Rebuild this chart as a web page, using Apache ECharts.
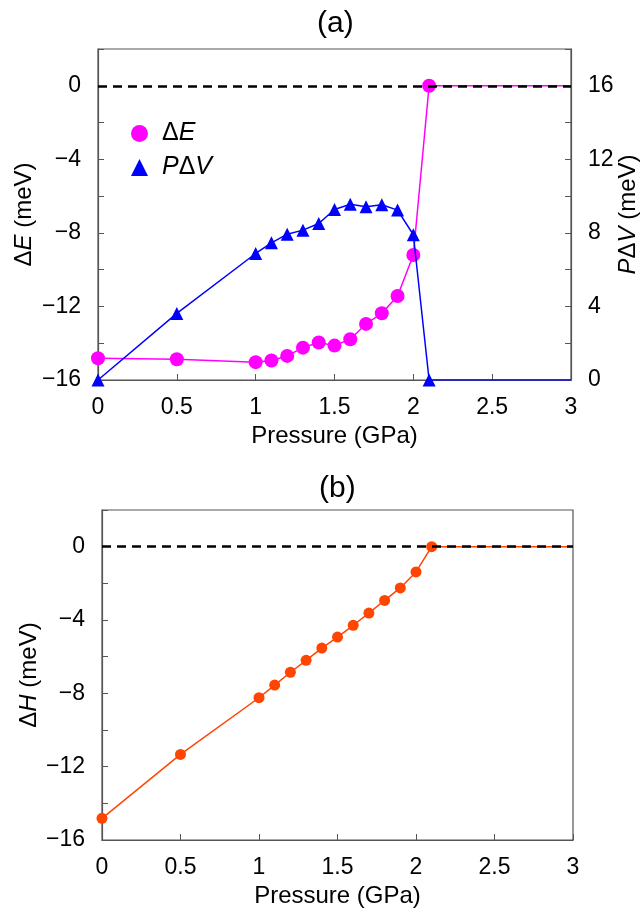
<!DOCTYPE html>
<html>
<head>
<meta charset="utf-8">
<script src="https://cdn.jsdelivr.net/npm/echarts@6/dist/echarts.min.js"></script>
<style>
  html, body { margin: 0; padding: 0; background: #fff; }
  #chart { width: 644px; height: 913px; }
</style>
</head>
<body>
<div id="chart"></div>
<script>
// Pressure points (GPa); the last entry closes the flat tail at 3 GPa
const pressure = [0, 0.5, 1.0, 1.1, 1.2, 1.3, 1.4, 1.5, 1.6, 1.7, 1.8, 1.9, 2.0, 2.1, 3.0];
// Energy difference ΔE (meV)
const deltaE = [-14.82, -14.87, -15.03, -14.94, -14.69, -14.24, -13.96, -14.13, -13.78, -12.95, -12.37, -11.43, -9.20, 0, 0];
// PΔV term (meV)
const pDeltaV = [0, 3.62, 6.88, 7.46, 7.93, 8.15, 8.51, 9.27, 9.56, 9.42, 9.53, 9.24, 7.90, 0, 0];
// Enthalpy difference ΔH (meV)
const deltaH = [-14.82, -11.33, -8.24, -7.55, -6.85, -6.20, -5.53, -4.93, -4.29, -3.62, -2.93, -2.25, -1.38, 0, 0];

const xTicks = [0, 0.5, 1, 1.5, 2, 2.5, 3];

const FONT = 'Liberation Sans, Arial, Helvetica, sans-serif';
const AXIS_GREY = '#555';
const TICK_FS = 23;
const NAME_FS = 24;

// Pair pressures with values; the 3 GPa tail point has no marker
function toPoints(values) {
  return pressure.map((p, i) => {
    const item = { value: [p, values[i]] };
    if (p === 3.0) item.symbol = 'none';
    return item;
  });
}

function minusSign(v) {
  return String(v).replace('-', '\u2212');
}

const nameRich = {
  u: { fontFamily: FONT, fontSize: NAME_FS, color: '#000' },
  i: { fontFamily: FONT, fontSize: NAME_FS, color: '#000', fontStyle: 'italic' }
};

function xAxisFor(gridIndex) {
  return {
    type: 'value', gridIndex,
    min: 0, max: 3, interval: 0.5,
    name: 'Pressure (GPa)', nameLocation: 'middle', nameGap: 44, nameMoveOverlap: false,
    nameTextStyle: { fontFamily: FONT, fontSize: NAME_FS, color: '#000' },
    axisLine: { show: true, onZero: false, lineStyle: { color: AXIS_GREY, width: 1.2 } },
    axisTick: { show: true, inside: true, length: 6, lineStyle: { color: AXIS_GREY } },
    axisLabel: {
      margin: 16, fontFamily: FONT, fontSize: TICK_FS, color: '#000',
      formatter: v => xTicks.includes(v) ? String(v) : ''
    },
    splitLine: { show: false }
  };
}

function leftAxisFor(gridIndex, name, gap) {
  return {
    type: 'value', gridIndex, position: 'left',
    min: -16, max: 2, interval: 2,
    name, nameLocation: 'middle', nameGap: gap, nameRotate: 90, nameMoveOverlap: false,
    nameTextStyle: { fontFamily: FONT, fontSize: NAME_FS, color: '#000', rich: nameRich },
    axisLine: { show: true, onZero: false, lineStyle: { color: AXIS_GREY, width: 1.2 } },
    axisTick: { show: true, inside: true, length: 6, lineStyle: { color: AXIS_GREY } },
    axisLabel: {
      margin: 17, fontFamily: FONT, fontSize: TICK_FS, color: '#000',
      formatter: v => (v % 4 === 0) ? minusSign(v) : ''
    },
    splitLine: { show: false }
  };
}

const legendRich = {
  s: { width: 9 },
  u: { fontFamily: FONT, fontSize: 25, color: '#000' },
  i: { fontFamily: FONT, fontSize: 25, color: '#000', fontStyle: 'italic' }
};

const zeroLine = {
  silent: true, symbol: 'none', label: { show: false },
  lineStyle: { color: '#000', type: [9, 6], width: 2.5 },
  data: [[{ coord: [0, 0] }, { coord: [3, 0] }]]
};

const titleStyle = { fontFamily: FONT, fontSize: 30, fontWeight: 'normal', color: '#000' };

const option = {
  backgroundColor: '#fff',
  animation: false,
  title: [
    { text: '(a)', left: 312, top: 4, textStyle: titleStyle },
    { text: '(b)', left: 314, top: 469, textStyle: titleStyle }
  ],
  legend: {
    left: 126, top: 116, orient: 'vertical',
    itemWidth: 17, itemHeight: 17, itemGap: 9,
    data: [{ name: 'ΔE', icon: 'circle' }, { name: 'PΔV', icon: 'triangle' }],
    formatter: n => n === 'ΔE' ? '{s|}{u|Δ}{i|E}' : '{s|}{i|P}{u|Δ}{i|V}',
    textStyle: { fontFamily: FONT, fontSize: 25, color: '#000', rich: legendRich }
  },
  grid: [
    { left: 98, right: 73, top: 49, bottom: 533, outerBoundsMode: 'none', containLabel: false,
      show: true, borderColor: AXIS_GREY, borderWidth: 1.2, backgroundColor: 'transparent' },
    { left: 102, right: 71, top: 510, bottom: 73, outerBoundsMode: 'none', containLabel: false,
      show: true, borderColor: AXIS_GREY, borderWidth: 1.2, backgroundColor: 'transparent' }
  ],
  xAxis: [xAxisFor(0), xAxisFor(1)],
  yAxis: [
    leftAxisFor(0, '{u|Δ}{i|E}{u| (meV)}', 62),
    {
      type: 'value', gridIndex: 0, position: 'right',
      min: 0, max: 18, interval: 2,
      name: '{i|P}{u|Δ}{i|V}{u| (meV)}', nameLocation: 'middle', nameGap: 45, nameRotate: 90, nameMoveOverlap: false,
      nameTextStyle: { fontFamily: FONT, fontSize: NAME_FS, color: '#000', rich: nameRich },
      axisLine: { show: true, onZero: false, lineStyle: { color: AXIS_GREY, width: 1.2 } },
      axisTick: { show: true, inside: true, length: 6, lineStyle: { color: AXIS_GREY } },
      axisLabel: {
        margin: 17, fontFamily: FONT, fontSize: TICK_FS, color: '#000',
        formatter: v => (v % 4 === 0) ? String(v) : ''
      },
      splitLine: { show: false }
    },
    leftAxisFor(1, '{u|Δ}{i|H}{u| (meV)}', 61)
  ],
  series: [
    {
      name: 'ΔE', type: 'line', xAxisIndex: 0, yAxisIndex: 0,
      data: toPoints(deltaE),
      symbol: 'circle', symbolSize: 14,
      itemStyle: { color: '#ff00ff' },
      lineStyle: { color: '#ff00ff', width: 1.5 },
      z: 3,
      markLine: zeroLine
    },
    {
      name: 'PΔV', type: 'line', xAxisIndex: 0, yAxisIndex: 1,
      data: toPoints(pDeltaV),
      symbol: 'triangle', symbolSize: 13,
      itemStyle: { color: '#0000ff' },
      lineStyle: { color: '#0000ff', width: 1.5 },
      z: 4
    },
    {
      name: 'ΔH', type: 'line', xAxisIndex: 1, yAxisIndex: 2,
      data: toPoints(deltaH),
      symbol: 'circle', symbolSize: 11,
      itemStyle: { color: '#ff4500' },
      lineStyle: { color: '#ff4500', width: 1.5 },
      z: 3,
      markLine: zeroLine
    }
  ]
};

const chart = echarts.init(document.getElementById('chart'), null, { renderer: 'canvas' });
chart.setOption(option);
</script>
</body>
</html>
